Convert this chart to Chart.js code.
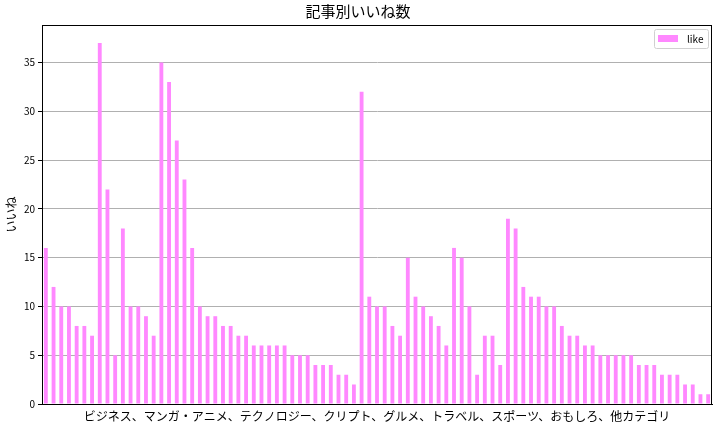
<!DOCTYPE html>
<html>
<head>
<meta charset="utf-8">
<script src="https://cdn.jsdelivr.net/npm/chart.js@4.4.0/dist/chart.umd.min.js"></script>
<style>
    html, body { margin: 0; padding: 0; background: #fff; }
    #wrap { width: 722px; height: 427px; }
</style>
</head>
<body>
<div id="wrap"><canvas id="likeChart" width="722" height="427"></canvas></div>
<script>
// Chart data
const likes = [
    16, 12, 10, 10, 8, 8, 7, 37, 22, 5, 18, 10, 10, 9, 7, 35, 33, 27, 23, 16,
    10, 9, 9, 8, 8, 7, 7, 6, 6, 6, 6, 6, 5, 5, 5, 4, 4, 4, 3, 3,
    2, 32, 11, 10, 10, 8, 7, 15, 11, 10, 9, 8, 6, 16, 15, 10, 3, 7, 7, 4,
    19, 18, 12, 11, 11, 10, 10, 8, 7, 7, 6, 6, 5, 5, 5, 5, 5, 4, 4, 4,
    3, 3, 3, 2, 2, 1, 1
];
const articles = likes.map((v, i) => 'article ' + (i + 1));
const yTicks = [0, 5, 10, 15, 20, 25, 30, 35];
const seriesName = 'like';
const chartTitle = '記事別いいね数';
const xTitle = 'ビジネス、マンガ・アニメ、テクノロジー、クリプト、グルメ、トラベル、スポーツ、おもしろ、他カテゴリ';
const yTitle = 'いいね';

const FONT = '"Noto Sans CJK JP", "DejaVu Sans", sans-serif';
const BAR_COLOR = '#ff88ff';

// frame around the plot area + legend box inside top-right
const framePlugin = {
    id: 'frame',
    afterDraw(chart) {
        const { ctx, chartArea: a } = chart;
        ctx.save();
        ctx.strokeStyle = '#000';
        ctx.lineWidth = 1;
        ctx.strokeRect(a.left + 0.5, a.top + 0.5, a.right - a.left - 1, a.bottom - a.top);

        // legend
        const w = 54, h = 19;
        const x = a.right - 4 - w, y = a.top + 4;
        ctx.fillStyle = 'rgba(255,255,255,0.8)';
        ctx.strokeStyle = '#d0d0d0';
        ctx.beginPath();
        ctx.roundRect(x + 0.5, y + 0.5, w, h, 2);
        ctx.fill();
        ctx.stroke();
        ctx.fillStyle = chart.data.datasets[0].backgroundColor;
        ctx.fillRect(x + 4, y + 6, 20, 7);
        ctx.fillStyle = '#000';
        ctx.font = '10px ' + FONT;
        ctx.textBaseline = 'middle';
        ctx.fillText(chart.data.datasets[0].label, x + 33, y + h / 2 + 1);
        ctx.restore();
    }
};

new Chart(document.getElementById('likeChart').getContext('2d'), {
    type: 'bar',
    data: {
        labels: articles,
        datasets: [{
            label: seriesName,
            data: likes,
            backgroundColor: BAR_COLOR,
            borderWidth: 0,
            barPercentage: 0.5,
            categoryPercentage: 1.0
        }]
    },
    options: {
        responsive: false,
        animation: false,
        layout: { padding: { left: 4, right: 10, top: 0, bottom: 3 } },
        plugins: {
            legend: { display: false },
            tooltip: { enabled: false },
            title: {
                display: true,
                text: chartTitle,
                color: '#000',
                font: { family: FONT, size: 15, weight: 'normal' },
                padding: { top: 2, bottom: 5 }
            }
        },
        scales: {
            x: {
                offset: true,
                grid: { display: false },
                border: { display: true, color: '#000' },
                ticks: { display: false },
                title: {
                    display: true,
                    text: xTitle,
                    color: '#000',
                    font: { family: FONT, size: 12 },
                    padding: { top: 4, bottom: 0 }
                },
                afterFit(scale) { scale.height = 20; }
            },
            y: {
                min: 0,
                max: 38.85,
                afterBuildTicks(scale) {
                    scale.ticks = yTicks.map(v => ({ value: v }));
                },
                grid: { color: '#b0b0b0', tickColor: '#000', tickLength: 4 },
                border: { display: true, color: '#000' },
                ticks: {
                    color: '#000',
                    padding: 3,
                    font: { family: FONT, size: 10 }
                },
                title: {
                    display: true,
                    text: yTitle,
                    color: '#000',
                    font: { family: FONT, size: 12 },
                    padding: { top: 0, bottom: 4 }
                },
                afterFit(scale) { scale.width = 38; }
            }
        }
    },
    plugins: [framePlugin]
});
</script>
</body>
</html>
